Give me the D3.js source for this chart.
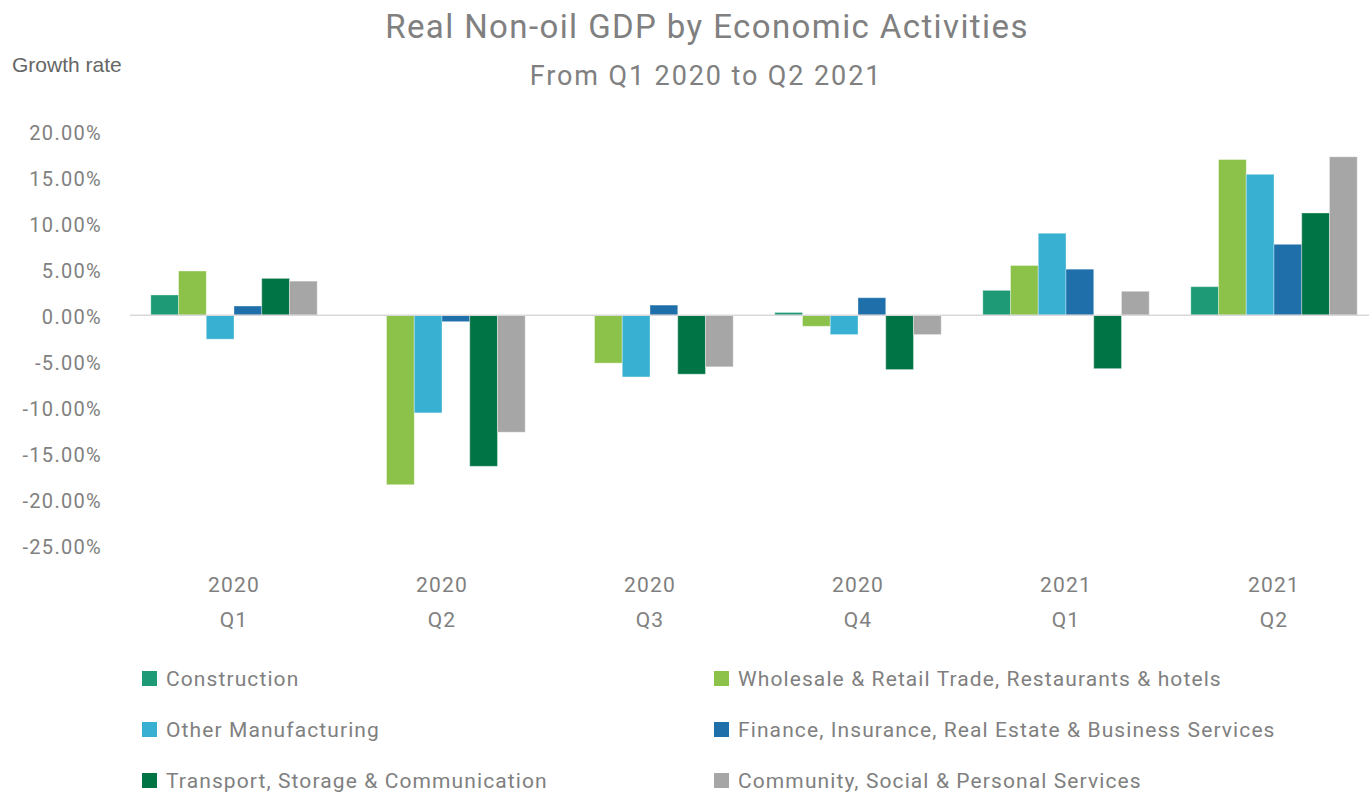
<!DOCTYPE html>
<html>
<head>
<meta charset="utf-8">
<script src="https://cdn.jsdelivr.net/npm/d3@7"></script>
<style>
  html, body { margin: 0; padding: 0; background: #fff; }
  svg { display: block; }
</style>
</head>
<body>
<svg id="chart" width="1369" height="796"></svg>
<script>
const years = ["2020", "2020", "2020", "2020", "2021", "2021"];
const quarters = ["Q1", "Q2", "Q3", "Q4", "Q1", "Q2"];
const seriesNames = [
  "Construction",
  "Wholesale & Retail Trade, Restaurants & hotels",
  "Other Manufacturing",
  "Finance, Insurance, Real Estate & Business Services",
  "Transport, Storage & Communication",
  "Community, Social & Personal Services"
];
const construction = [2.2, 0.0, 0.0, 0.3, 2.7, 3.1];
const wholesale    = [4.8, -18.4, -5.2, -1.2, 5.4, 16.9];
const otherMfg     = [-2.6, -10.6, -6.7, -2.1, 8.9, 15.3];
const finance      = [1.0, -0.7, 1.1, 1.9, 5.0, 7.7];
const transport    = [4.0, -16.4, -6.4, -5.9, -5.8, 11.1];
const community    = [3.7, -12.7, -5.6, -2.1, 2.6, 17.2];
const seriesValues = [construction, wholesale, otherMfg, finance, transport, community];
const colors = ["#1e9b76", "#8cc14a", "#37b0d1", "#1f6fab", "#007444", "#a6a6a6"];
const yTicks = [20, 15, 10, 5, 0, -5, -10, -15, -20, -25];

const svg = d3.select("#chart");
const font = "Roboto, 'DejaVu Sans', sans-serif";
const gray = "#808080";

const left = 130, right = 1378;
const x0 = d3.scaleBand().domain(d3.range(years.length)).range([left, right]).paddingInner(0.2).paddingOuter(0.1);
const x1 = d3.scaleBand().domain(d3.range(seriesNames.length)).range([0, x0.bandwidth()]);
const y = d3.scaleLinear().domain([-25, 20]).range([545.5, 131]);

// Title
svg.append("text").attr("x", 707).attr("y", 38).attr("text-anchor", "middle")
  .attr("font-family", font).attr("font-size", 33).attr("letter-spacing", 1.4).attr("fill", gray)
  .text("Real Non-oil GDP by Economic Activities");
svg.append("text").attr("x", 706).attr("y", 85).attr("text-anchor", "middle")
  .attr("font-family", font).attr("font-size", 27).attr("letter-spacing", 1.9).attr("fill", gray)
  .text("From Q1 2020 to Q2 2021");
svg.append("text").attr("x", 12).attr("y", 72)
  .attr("font-family", "'Liberation Sans', Arial, sans-serif").attr("font-size", 21).attr("fill", "#666")
  .text("Growth rate");

// Y axis labels
const fmt = d => (d < 0 ? "-" : "") + d3.format(".2f")(Math.abs(d)) + "%";
const yAxis = d3.axisLeft(y).tickValues(yTicks).tickSize(0).tickPadding(0).tickFormat(fmt);
const gy = svg.append("g").attr("transform", "translate(102,0)").call(yAxis);
gy.select(".domain").remove();
gy.selectAll("text").attr("font-family", font).attr("font-size", 20).attr("letter-spacing", 1.3)
  .attr("fill", gray).attr("dy", "0.4em");

// Bars
const groups = svg.append("g").selectAll("g").data(years).join("g")
  .attr("transform", (d, i) => `translate(${x0(i)},0)`);
groups.selectAll("rect").data((d, i) => seriesValues.map((s, j) => ({ v: s[i], j })))
  .join("rect")
  .attr("x", d => x1(d.j))
  .attr("width", x1.bandwidth())
  .attr("y", d => y(Math.max(0, d.v)))
  .attr("height", d => Math.abs(y(d.v) - y(0)))
  .attr("fill", d => colors[d.j])
  .attr("stroke", "rgba(255,255,255,0.35)")
  .attr("stroke-width", 1);

// Zero line
svg.append("line").attr("x1", left).attr("x2", 1369).attr("y1", y(0)).attr("y2", y(0))
  .attr("stroke", "#d9d9d9").attr("stroke-width", 1.5);

// X labels
const xl = svg.append("g");
years.forEach((yr, i) => {
  const cx = x0(i) + x0.bandwidth() / 2;
  xl.append("text").attr("x", cx).attr("y", 592).attr("text-anchor", "middle")
    .attr("font-family", font).attr("font-size", 21).attr("letter-spacing", 1.2).attr("fill", gray).text(yr);
  xl.append("text").attr("x", cx).attr("y", 627).attr("text-anchor", "middle")
    .attr("font-family", font).attr("font-size", 21).attr("letter-spacing", 1.2).attr("fill", gray).text(quarters[i]);
});

// Legend
const leg = svg.append("g");
seriesNames.forEach((name, i) => {
  const col = i % 2, row = Math.floor(i / 2);
  const lx = col === 0 ? 142 : 714;
  const ly = 679 + row * 51;
  leg.append("rect").attr("x", lx).attr("y", ly - 8).attr("width", 15).attr("height", 15).attr("fill", colors[i]);
  leg.append("text").attr("x", lx + 24).attr("y", ly + 7)
    .attr("font-family", font).attr("font-size", 21).attr("letter-spacing", 1.1).attr("fill", gray).text(name);
});
</script>
</body>
</html>
